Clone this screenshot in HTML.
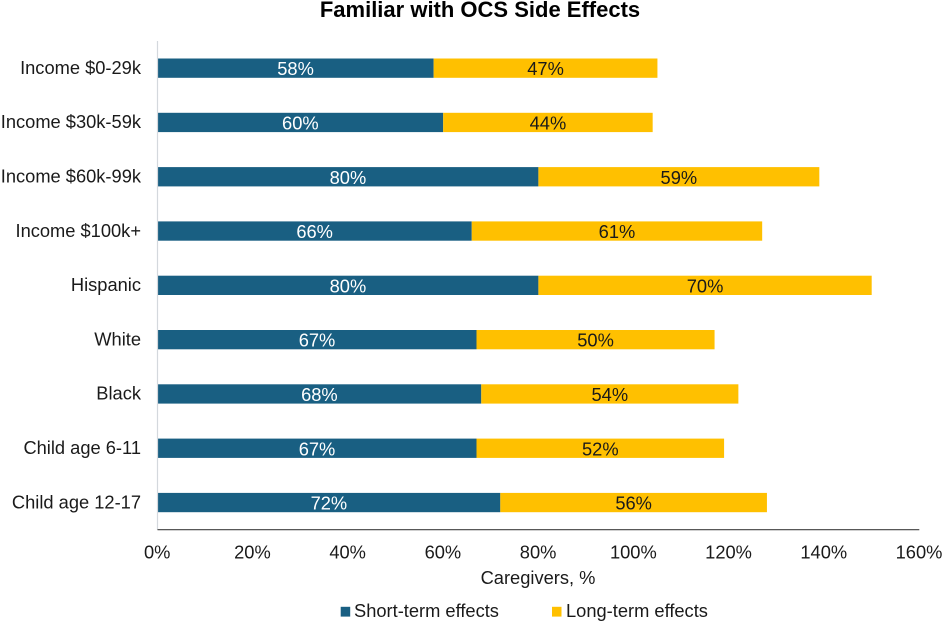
<!DOCTYPE html>
<html><head><meta charset="utf-8">
<style>
html,body{margin:0;padding:0;background:#fff}
svg{display:block}
text{font-family:"Liberation Sans",Arial,sans-serif;font-size:18.3px;fill:#1a1a1a}
</style></head>
<body>
<svg id="chart" xmlns="http://www.w3.org/2000/svg" width="944" height="623" viewBox="0 0 944 623"></svg>
<script>
const categories = ["Income $0-29k","Income $30k-59k","Income $60k-99k","Income $100k+","Hispanic","White","Black","Child age 6-11","Child age 12-17"];
const shortTerm = [58,60,80,66,80,67,68,67,72];
const longTerm = [47,44,59,61,70,50,54,52,56];
const xTicks = [0,20,40,60,80,100,120,140,160];
const chartTitle = "Familiar with OCS Side Effects";
const xTitle = "Caregivers, %";
const seriesNames = ["Short-term effects","Long-term effects"];

const svg = document.getElementById('chart');
const NS = 'http://www.w3.org/2000/svg';
const plotLeft = 157.5, plotRight = 919.3, plotTop = 41, plotBottom = 529.7, barH = 19.3;
const SHORT = '#195f82', LONG = '#ffc000';
const xScale = v => plotLeft + (v / 160) * (plotRight - plotLeft);
const yCenter = i => plotTop + (i + 0.5) * (plotBottom - plotTop) / categories.length;
function mk(tag, attrs, txt){
  const el = document.createElementNS(NS, tag);
  for (const k in attrs) el.setAttribute(k, attrs[k]);
  if (txt !== undefined) el.textContent = txt;
  svg.appendChild(el);
  return el;
}
let el;
el = mk('text',{x:480,y:17,'text-anchor':'middle','font-weight':'bold',style:'font-size:22px;fill:#000'},chartTitle);



categories.forEach((c,i)=>{
  const yc = yCenter(i);
  const s = shortTerm[i], l = longTerm[i];
  let e;
  e = mk('text',{x:141,y:yc+5.7,'text-anchor':'end'},c);
  
  
  e = mk('rect',{x:xScale(0),y:yc-barH/2,width:xScale(s)-xScale(0),height:barH,fill:SHORT});
  
  
  e = mk('rect',{x:xScale(s),y:yc-barH/2,width:xScale(s+l)-xScale(s),height:barH,fill:LONG});
  
  
  e = mk('text',{x:xScale(s/2),y:yc+7,'text-anchor':'middle',style:'fill:#fff'},s+'%');
  
  
  e = mk('text',{x:xScale(s+l/2),y:yc+7,'text-anchor':'middle'},l+'%');
  
  
});

el = mk('line',{x1:plotLeft,y1:plotTop,x2:plotLeft,y2:plotBottom,stroke:'#d4d8dd','stroke-width':1.2});


el = mk('line',{x1:plotLeft,y1:plotBottom,x2:plotRight,y2:plotBottom,stroke:'#404040','stroke-width':1.2});



xTicks.forEach(t=>{
  const e = mk('text',{x:xScale(t)-0.3,y:558.3,'text-anchor':'middle'},t+'%');
  
  
});
el = mk('text',{x:538,y:584,'text-anchor':'middle'},xTitle);



el = mk('rect',{x:340.7,y:606.8,width:9.5,height:9.8,fill:SHORT});


el = mk('text',{x:354,y:617},seriesNames[0]);


el = mk('rect',{x:552,y:606.8,width:9.5,height:9.8,fill:LONG});


el = mk('text',{x:566,y:617},seriesNames[1]);


</script>
</body></html>
